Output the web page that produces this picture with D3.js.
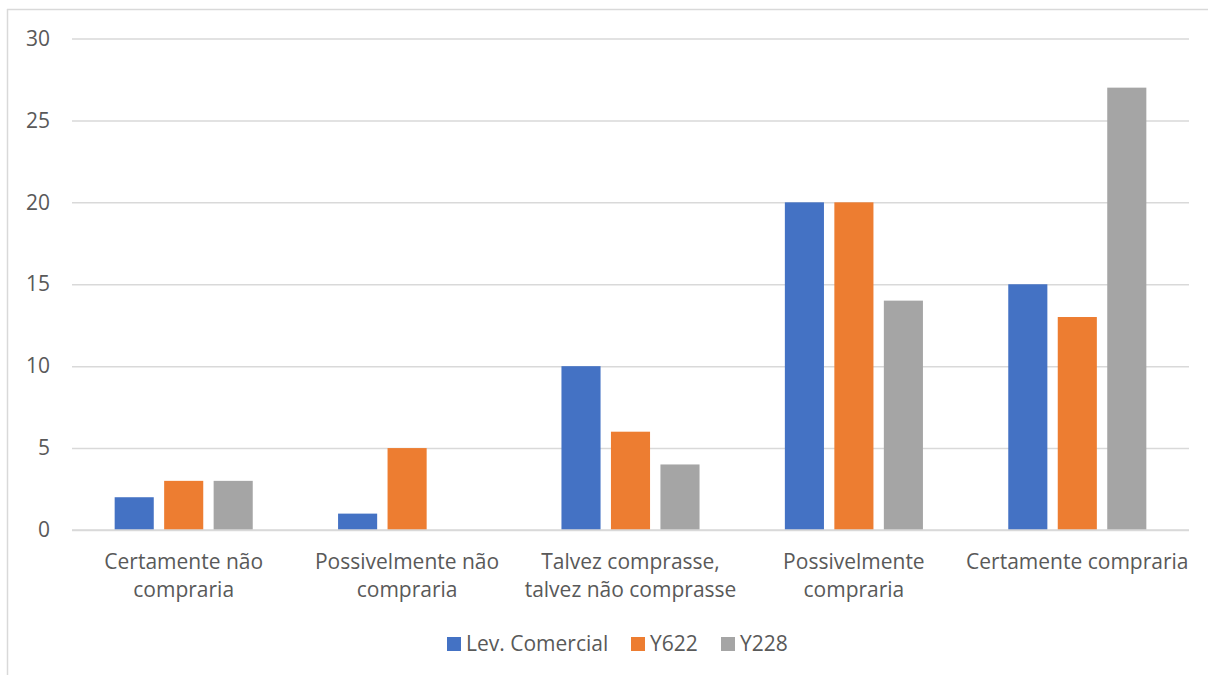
<!DOCTYPE html>
<html>
<head>
<meta charset="utf-8">
<script src="https://cdn.jsdelivr.net/npm/d3@7"></script>
<style>
  html, body { margin: 0; padding: 0; background: #fff; }
  svg { display: block; font-family: "Open Sans", Lato, sans-serif; }
</style>
</head>
<body>
<svg id="chart" width="1208" height="675"></svg>
<script>
// Purchase-intent responses per product
const categories = [
  "Certamente não compraria",
  "Possivelmente não compraria",
  "Talvez comprasse, talvez não comprasse",
  "Possivelmente compraria",
  "Certamente compraria"
];
const categoryLines = [
  ["Certamente não", "compraria"],
  ["Possivelmente não", "compraria"],
  ["Talvez comprasse,", "talvez não comprasse"],
  ["Possivelmente", "compraria"],
  ["Certamente compraria"]
];
const seriesNames = ["Lev. Comercial", "Y622", "Y228"];
const levComercial = [2, 1, 10, 20, 15];
const y622 = [3, 5, 6, 20, 13];
const y228 = [3, 0, 4, 14, 27];
const yTicks = [0, 5, 10, 15, 20, 25, 30];
const colors = ["#4472C4", "#ED7D31", "#A5A5A5"];

const seriesValues = [levComercial, y622, y228];

const svg = d3.select("#chart");
const textColor = "#595959";
const gridColor = "#D9D9D9";
const fontSize = "21px";

// chart frame (left and top edges visible)
svg.append("line").attr("x1", 7.5).attr("x2", 7.5).attr("y1", 9).attr("y2", 675)
  .attr("stroke", gridColor).attr("stroke-width", 1.5);
svg.append("line").attr("x1", 7).attr("x2", 1208).attr("y1", 9.5).attr("y2", 9.5)
  .attr("stroke", gridColor).attr("stroke-width", 1.5);

const plot = { left: 72, right: 1189, top: 38.5, bottom: 530 };

const x0 = d3.scaleBand().domain(categories).range([plot.left, plot.right]).padding(0);
const x1 = d3.scaleBand().domain(seriesNames).range([0, x0.bandwidth()])
  .paddingInner(0.21).paddingOuter(0.862);
const y = d3.scaleLinear().domain([0, 30]).range([plot.bottom, plot.top]);

// gridlines and y tick labels
const yAxis = d3.axisLeft(y).tickValues(yTicks).tickSize(-(plot.right - plot.left)).tickPadding(22);
const gy = svg.append("g").attr("transform", `translate(${plot.left},0)`).call(yAxis);
gy.select(".domain").remove();
gy.selectAll(".tick line").attr("stroke", gridColor).attr("stroke-width", 1.5);
gy.selectAll(".tick text").attr("fill", textColor).style("font-size", fontSize)
  .style("font-family", "'Open Sans', Lato, sans-serif");

// bars
const data = categories.map((c, i) => ({
  cat: c,
  vals: seriesNames.map((s, j) => ({ series: s, value: seriesValues[j][i], color: colors[j] }))
}));

const groups = svg.append("g").selectAll("g").data(data).join("g")
  .attr("transform", d => `translate(${x0(d.cat)},0)`);
groups.selectAll("rect").data(d => d.vals).join("rect")
  .attr("x", d => x1(d.series))
  .attr("width", x1.bandwidth())
  .attr("y", d => y(d.value))
  .attr("height", d => y(0) - y(d.value))
  .attr("fill", d => d.color);

// redraw baseline on top of bars
svg.append("line").attr("x1", plot.left).attr("x2", plot.right)
  .attr("y1", y(0)).attr("y2", y(0)).attr("stroke", gridColor).attr("stroke-width", 1.5);

// category labels
const labels = svg.append("g");
categories.forEach((c, i) => {
  const cx = x0(c) + x0.bandwidth() / 2;
  const t = labels.append("text").attr("text-anchor", "middle").attr("fill", textColor)
    .style("font-size", fontSize);
  categoryLines[i].forEach((line, k) => {
    t.append("tspan").attr("x", cx).attr("y", 569 + k * 28).text(line);
  });
});

// legend
const legendItems = [
  { name: seriesNames[0], x: 447 },
  { name: seriesNames[1], x: 631 },
  { name: seriesNames[2], x: 721 }
];
const lg = svg.append("g");
legendItems.forEach((it, i) => {
  lg.append("rect").attr("x", it.x).attr("y", 637).attr("width", 14).attr("height", 14)
    .attr("fill", colors[i]);
  lg.append("text").attr("x", it.x + 19).attr("y", 651).attr("fill", textColor)
    .style("font-size", fontSize).text(it.name);
});
</script>
</body>
</html>
